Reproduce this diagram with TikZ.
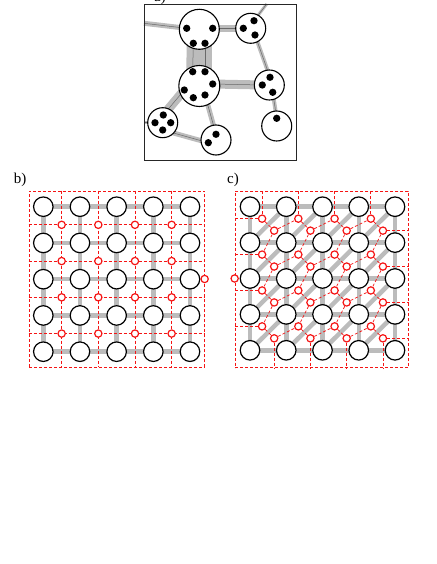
\documentclass[tikz,border=0pt]{standalone}
\usepackage{fontspec}
\setmainfont{Liberation Serif}
\usepackage{xcolor}
\usetikzlibrary{backgrounds,calc}
\definecolor{bondgray}{RGB}{188, 188, 188}
\definecolor{bondline}{RGB}{105, 105, 105}
\definecolor{cellred}{RGB}{245, 20, 20}

\begin{document}
\begin{tikzpicture}[x=1pt, y=-1pt,
    site/.style={circle, draw=black, line width=1.2pt, fill=white, minimum size=19.5pt, inner sep=0pt},
    dual/.style={circle, draw=cellred, line width=1.2pt, fill=white, minimum size=7.3pt, inner sep=0pt},
    cluster/.style={circle, draw=black, line width=1.1pt, fill=white, inner sep=0pt},
    dot/.style={circle, fill=black, minimum size=7.3pt, inner sep=0pt},
    bond/.style={draw=bondgray, line width=4.5pt},
    abond/.style={draw=bondgray, line width=#1, postaction={draw=bondline, line width=0.5pt}},
    cell/.style={draw=cellred, line width=0.7pt, dash pattern=on 3pt off 2pt},
    panel/.style={font=\fontsize{15}{18}\selectfont}
]
    \useasboundingbox (0,0) rectangle (436,564);

    % a) clusters
    \node[panel] (la) at (160,-2) {a)};
    \node[draw=black!85, line width=0.8pt, minimum width=152.7pt, minimum height=156pt, inner sep=0pt] (abox) at (220.35,82) {};
    \coordinate (ea) at (144,23.3);
    \coordinate (eb) at (266.7,4);
    \coordinate (ef) at (144,122.7);

    \node[cluster, minimum size=40pt] (k1) at (199.3,29.3) {};
    \node[cluster, minimum size=30pt] (k2) at (250.7,28.3) {};
    \node[cluster, minimum size=41pt] (k3) at (199.3,86) {};
    \node[cluster, minimum size=30pt] (k4) at (269.3,85) {};
    \node[cluster, minimum size=30pt] (k5) at (276.7,126) {};
    \node[cluster, minimum size=30pt] (k6) at (162.7,122.7) {};
    \node[cluster, minimum size=30pt] (k7) at (216,140) {};

    \node[dot] (k1a) at (186.7,28.3) {};
    \node[dot] (k1b) at (212.7,28.3) {};
    \node[dot] (k1c) at (193.3,43.3) {};
    \node[dot] (k1d) at (205,43.3) {};
    \node[dot] (k2a) at (243.3,28.3) {};
    \node[dot] (k2b) at (254,20.7) {};
    \node[dot] (k2c) at (255,35) {};
    \node[dot] (k3a) at (192.7,71.7) {};
    \node[dot] (k3b) at (205,71.7) {};
    \node[dot] (k3c) at (212.7,84) {};
    \node[dot] (k3d) at (184.3,90) {};
    \node[dot] (k3e) at (193.3,97.7) {};
    \node[dot] (k3f) at (205,95) {};
    \node[dot] (k4a) at (262.3,85) {};
    \node[dot] (k4b) at (270,77.3) {};
    \node[dot] (k4c) at (272.7,92.3) {};
    \node[dot] (k5a) at (276.7,118.3) {};
    \node[dot] (k6a) at (163.3,115) {};
    \node[dot] (k6b) at (155,122.7) {};
    \node[dot] (k6c) at (170.7,122.7) {};
    \node[dot] (k6d) at (162.7,130) {};
    \node[dot] (k7a) at (216,134.3) {};
    \node[dot] (k7b) at (208.3,142.7) {};

    % b) square lattice
    \node[panel] (lb) at (20,180) {b)};
    \node[cell, minimum width=175.3pt, minimum height=176pt, inner sep=0pt] (bframe) at (116.65,279) {};
    \foreach \i in {0,...,4}
        \foreach \j in {0,...,4}
            \node[site] (b-\i-\j) at ({43.3+36.67*\i},{206.7+36.25*\j}) {};
    \foreach \i/\n in {0/1,1/2,2/3,3/4}
        \foreach \j/\m in {0/1,1/2,2/3,3/4}
            \node[dual] (r-\i-\j) at ($(b-\i-\j)!0.5!(b-\n-\m)$) {};
    \node[dual] (r-x) at (bframe.east) {};

    % c) triangular lattice
    \node[panel] (lc) at (233,180) {c)};
    \node[cell, minimum width=173.3pt, minimum height=176.7pt, inner sep=0pt] (cframe) at (321.65,279.35) {};
    \foreach \i in {0,...,4}
        \foreach \j in {0,...,4}
            \node[site] (c-\i-\j) at ({250+36.25*\i},{206.7+35.9*\j}) {};
    \foreach \i/\n in {0/1,1/2,2/3,3/4}
        \foreach \j/\m in {0/1,1/2,2/3,3/4} {
            \node[dual] (u-\i-\j) at ($(c-\i-\j)!1/3!(c-\n-\m)$) {};
            \node[dual] (v-\i-\j) at ($(c-\i-\j)!2/3!(c-\n-\m)$) {};
        }
    \node[dual] (u-x) at (cframe.west |- c-0-2) {};

    \begin{scope}[on background layer]
        % bonds of a)
        \draw[abond=5pt] (ea) -- (k1a.center);
        \draw[abond=7pt] (k1b.center) -- (k2a.center);
        \draw[abond=3pt] (k2b.center) -- (eb);
        \draw[abond=13pt] (k1c.center) -- (k3a.center);
        \draw[abond=13pt] (k1d.center) -- (k3b.center);
        \draw[abond=9pt] (k3c.center) -- (k4a.center);
        \draw[abond=4pt] (k2c.center) -- (k4b.center);
        \draw[abond=4pt] (k4c.center) -- (k5a.center);
        \draw[abond=9pt] (k3d.center) -- (k6a.center);
        \draw[abond=5pt] (k3f.center) -- (k7a.center);
        \draw[abond=5pt] (k6d.center) -- (k7b.center);
        \draw[abond=3pt] (ef) -- (k6b.center);

        % bonds of b) and c)
        \foreach \i/\n in {0/1,1/2,2/3,3/4}
            \foreach \j in {0,...,4} {
                \draw[bond] (b-\i-\j.center) -- (b-\n-\j.center);
                \draw[bond] (b-\j-\i.center) -- (b-\j-\n.center);
                \draw[bond] (c-\i-\j.center) -- (c-\n-\j.center);
                \draw[bond] (c-\j-\i.center) -- (c-\j-\n.center);
            }
        \foreach \i/\n in {0/1,1/2,2/3,3/4}
            \foreach \j/\m in {0/1,1/2,2/3,3/4}
                \draw[bond] (c-\i-\m.center) -- (c-\n-\j.center);

        % cells of b)
        \foreach \i in {0,...,3} {
            \draw[cell] (bframe.north -| r-\i-0) -- (bframe.south -| r-\i-0);
            \draw[cell] (bframe.west |- r-0-\i) -- (bframe.east |- r-0-\i);
        }

        % cells of c)
        \foreach \i/\n in {0/1,1/2,2/3,3/4}
            \foreach \j/\m in {0/1,1/2,2/3,3/4} {
                \draw[cell] (u-\i-\j) -- (v-\i-\j);
                \ifnum\i<3 \draw[cell] (v-\i-\j) -- (u-\n-\j); \fi
                \ifnum\j<3 \draw[cell] (v-\i-\j) -- (u-\i-\m); \fi
            }
        \foreach \i in {0,...,3} {
            \draw[cell] (u-\i-0) -- (cframe.north -| u-\i-0);
            \draw[cell] (u-0-\i) -- (cframe.west |- u-0-\i);
            \draw[cell] (v-3-\i) -- (cframe.east |- v-3-\i);
            \draw[cell] (v-\i-3) -- (cframe.south -| v-\i-3);
        }
    \end{scope}
\end{tikzpicture}
\end{document}
